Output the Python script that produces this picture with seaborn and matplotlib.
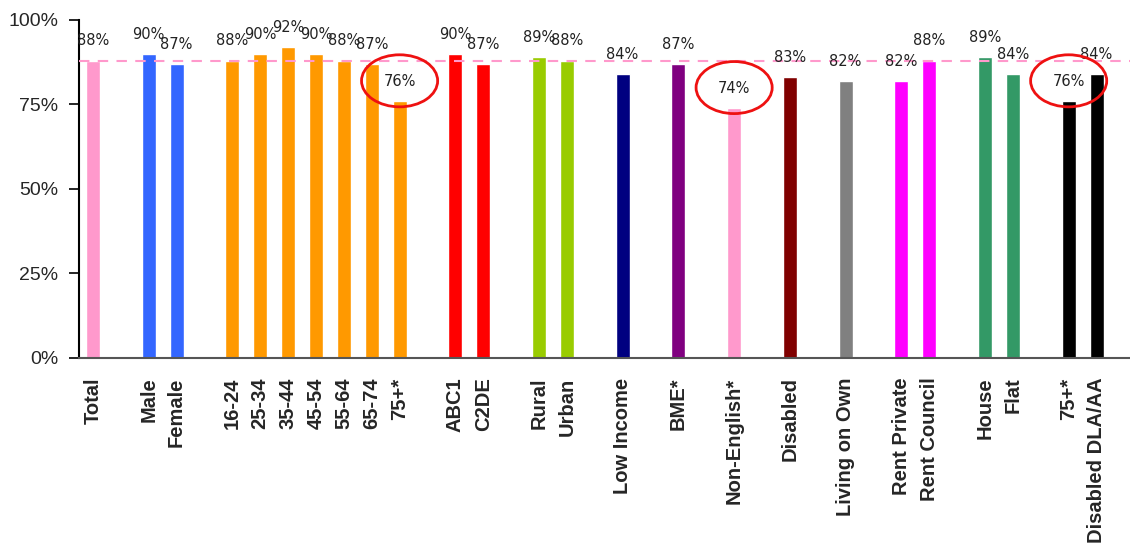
import numpy as np
import pandas as pd
import matplotlib
matplotlib.use('Agg')
import matplotlib.pyplot as plt
from matplotlib.patches import Ellipse
import seaborn as sns

# --- DATOS ---
groups = [
    ['Total'],
    ['Male', 'Female'],
    ['16-24', '25-34', '35-44', '45-54', '55-64', '65-74', '75+*'],
    ['ABC1', 'C2DE'],
    ['Rural', 'Urban'],
    ['Low Income'],
    ['BME*'],
    ['Non-English*'],
    ['Disabled'],
    ['Living on Own'],
    ['Rent Private', 'Rent Council'],
    ['House', 'Flat'],
    ['75+*', 'Disabled DLA/AA'],
]
values = [88, 90, 87, 88, 90, 92, 90, 88, 87, 76, 90, 87, 89, 88,
          84, 87, 74, 83, 82, 82, 88, 89, 84, 76, 84]
group_colors = ['#FF99CC', '#3366FF', '#FF9900', '#FF0000', '#99CC00', '#000080',
                '#800080', '#FF99CC', '#800000', '#808080', '#FF00FF', '#339966', '#000000']
circled = [9, 16, 23]   # barras marcadas con circulo rojo
y_ticks = [0, 25, 50, 75, 100]

# --- POSICIONES (un hueco entre grupos) ---
labels, pos, colors = [], [], []
slot = 0
for g, col in zip(groups, group_colors):
    for name in g:
        labels.append(name)
        pos.append(slot)
        colors.append(col)
        slot += 1
    slot += 1

df = pd.DataFrame({'pos': pos, 'value': values, 'label': labels})

sns.set_style('ticks')
plt.rcParams['font.family'] = ['Liberation Sans', 'DejaVu Sans']

fig = plt.figure(figsize=(11.3, 5.49), dpi=100)
ax = fig.add_axes([0.0699, 0.348, 0.9301, 0.6156])

sns.barplot(data=df, x='pos', y='value', hue='pos', native_scale=True,
            palette=dict(zip(pos, colors)), width=0.5, legend=False,
            saturation=1, ax=ax, zorder=2)

# linea de referencia (Total)
ax.axhline(values[0], color='#FF99CC', lw=1.5, ls=(0, (5, 4)), zorder=3)

# etiquetas de valor
for x, v in zip(pos, values):
    ax.text(x, v + 5.8, f'{v}%', ha='center', va='center', fontsize=10.5,
            family='DejaVu Sans', color='#222222', zorder=4)

# circulos rojos
for i in circled:
    ax.add_patch(Ellipse((pos[i], values[i] + 6), 2.73, 15.4, fill=False,
                         edgecolor='#EE1111', lw=2, zorder=5, clip_on=False))

ax.set_xlim(-0.5, 37.2)
ax.set_ylim(0, 100)
ax.set_yticks(y_ticks)
ax.set_yticklabels([f'{t}%' for t in y_ticks], fontsize=14)
ax.set_xticks(pos)
ax.set_xticklabels(labels, rotation=90, fontsize=14.5, fontweight='bold',
                   va='top', ha='center')
ax.tick_params(axis='x', length=0, pad=14)
ax.tick_params(axis='y', length=7, width=1.2, direction='out', color='black', pad=8)
ax.set_xlabel('')
ax.set_ylabel('')

for s in ['top', 'right']:
    ax.spines[s].set_visible(False)
ax.spines['left'].set_color('black')
ax.spines['left'].set_linewidth(1.5)
ax.spines['bottom'].set_color('#555555')
ax.spines['bottom'].set_linewidth(1.5)

fig.savefig('out.png', dpi=100)
